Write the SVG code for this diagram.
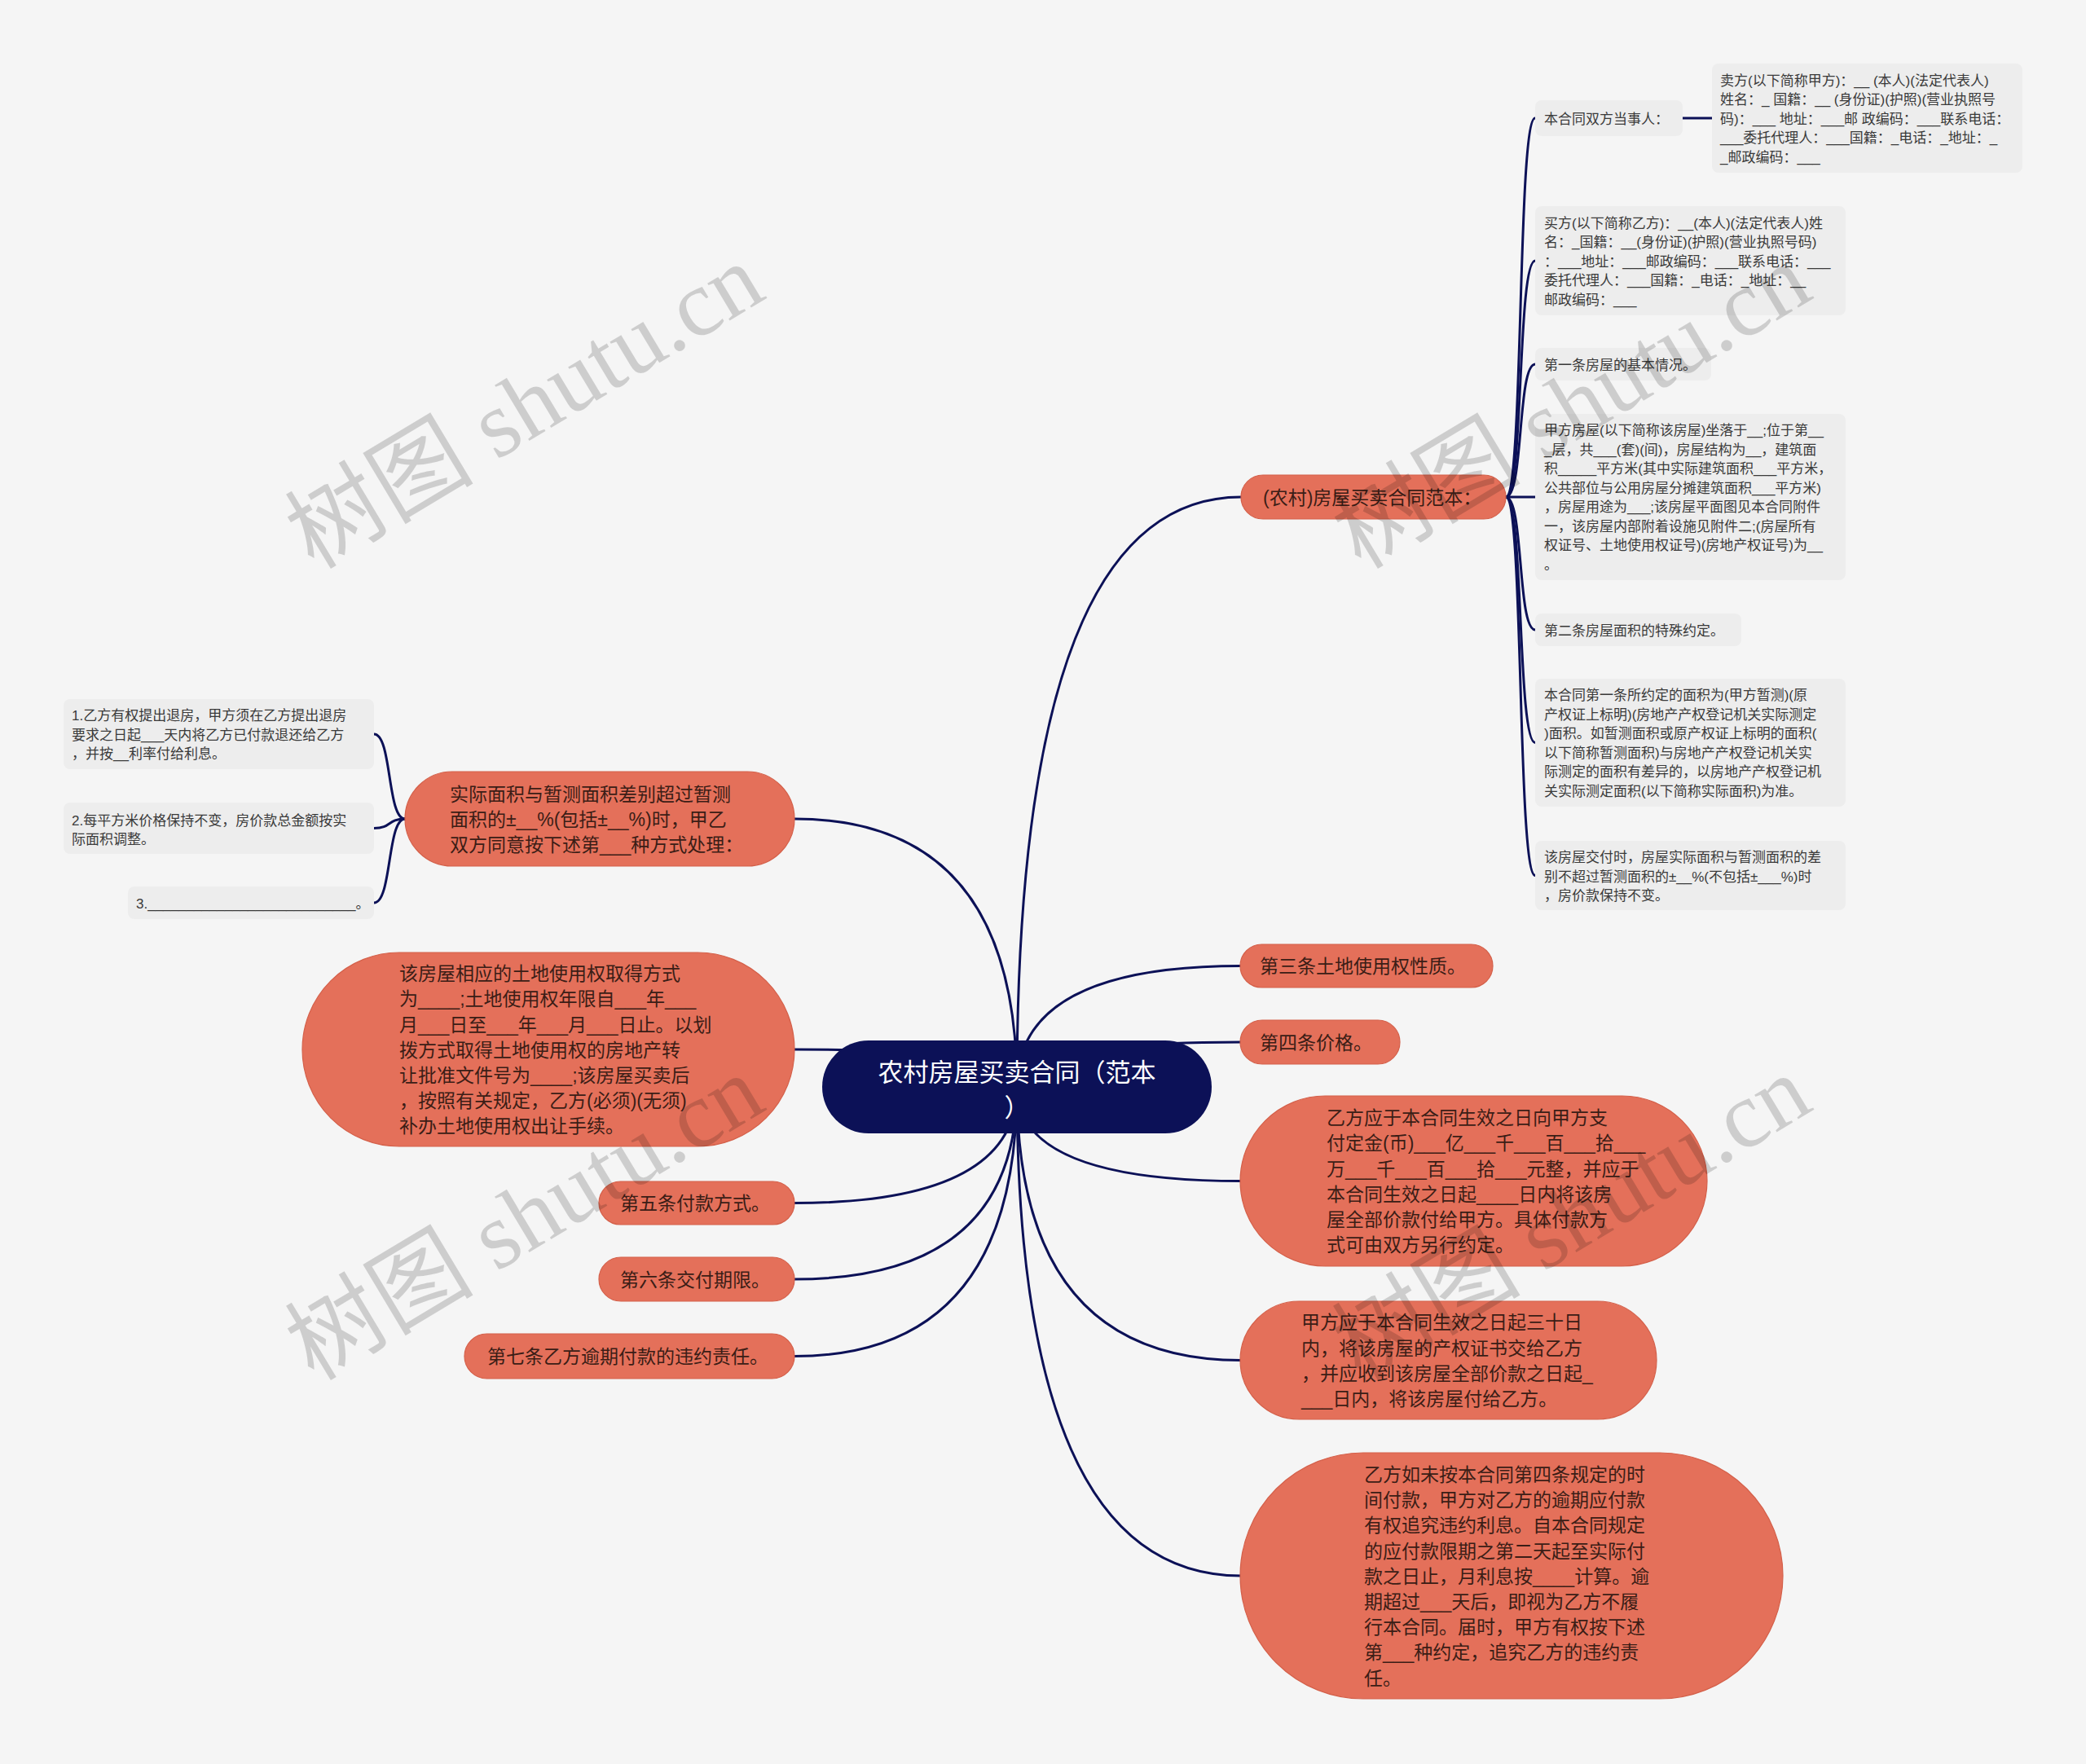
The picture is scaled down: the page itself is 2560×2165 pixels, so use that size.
<svg xmlns="http://www.w3.org/2000/svg" width="2560" height="2165" viewBox="0 0 2560 2165">
<style>
.bg{fill:#f5f5f5}
.edge{fill:none;stroke:#0c1157;stroke-width:3;stroke-linecap:round}
.l1{fill:#e4705a;stroke:#d4604a;stroke-width:1.2}
.l2{fill:#ededed}
.root{fill:#0c1157}
.t1{font-family:"Liberation Sans","Noto Sans CJK SC",sans-serif;font-size:23px;fill:#3b1d16}
.t2{font-family:"Liberation Sans","Noto Sans CJK SC",sans-serif;font-size:17px;fill:#3a3a3a}
.t0{font-family:"Liberation Sans","Noto Sans CJK SC",sans-serif;font-size:31px;fill:#ffffff}
.wm{font-family:"Liberation Serif","Noto Sans CJK SC",serif;font-size:116px;fill:#000;fill-opacity:0.16}
</style>
<rect class="bg" x="0" y="0" width="2560" height="2165"/>

<g id="connectors">
  <path class="edge" d="M1248 1334 Q1248 610 1523 610"/>
  <path class="edge" d="M1248 1334 Q1248 1185.5 1523 1185.5"/>
  <path class="edge" d="M1248 1334 Q1248 1279 1523 1279"/>
  <path class="edge" d="M1248 1334 Q1248 1449.5 1523 1449.5"/>
  <path class="edge" d="M1248 1334 Q1248 1669.5 1523 1669.5"/>
  <path class="edge" d="M1248 1334 Q1248 1934 1523 1934"/>
  <path class="edge" d="M1248 1334 Q1248 1005 975 1005"/>
  <path class="edge" d="M1248 1334 Q1248 1288 975 1288"/>
  <path class="edge" d="M1248 1334 Q1248 1476.5 975 1476.5"/>
  <path class="edge" d="M1248 1334 Q1248 1570 975 1570"/>
  <path class="edge" d="M1248 1334 Q1248 1664.5 975 1664.5"/>
  <path class="edge" d="M1848 610 C1870 610 1862 145 1884 145"/>
  <path class="edge" d="M1848 610 C1870 610 1862 320 1884 320"/>
  <path class="edge" d="M1848 610 C1870 610 1862 447 1884 447"/>
  <path class="edge" d="M1848 610 L1884 610"/>
  <path class="edge" d="M1848 610 C1870 610 1862 773 1884 773"/>
  <path class="edge" d="M1848 610 C1870 610 1862 911.5 1884 911.5"/>
  <path class="edge" d="M1848 610 C1870 610 1862 1074.5 1884 1074.5"/>
  <path class="edge" d="M2065 145 L2101 145"/>
  <path class="edge" d="M497 1005 C475 1005 481 901 459 901"/>
  <path class="edge" d="M497 1005 C475 1005 481 1016.5 459 1016.5"/>
  <path class="edge" d="M497 1005 C475 1005 481 1108 459 1108"/>
</g>

<g id="root">
  <rect class="root" x="1009" y="1277" width="478" height="114" rx="57"/>
  <text class="t0" text-anchor="middle"><tspan x="1248" y="1327">农村房屋买卖合同（范本</tspan><tspan x="1248" y="1370">）</tspan></text>
</g>

<g id="n-contract">
  <rect class="l1" x="1523" y="583" width="325" height="54" rx="27"/>
  <text class="t1" x="1550" y="618.7">(农村)房屋买卖合同范本：</text>
</g>
<g id="n-parties">
  <rect class="l2" x="1884" y="123" width="181" height="44" rx="8"/>
  <text class="t2" x="1895" y="151.5">本合同双方当事人：</text>
</g>
<g id="n-seller">
  <rect class="l2" x="2101" y="78" width="381" height="134" rx="8"/>
  <text class="t2"><tspan x="2111" y="104.5">卖方(以下简称甲方)：__ (本人)(法定代表人)</tspan><tspan x="2111" dy="23.5">姓名：_ 国籍：__ (身份证)(护照)(营业执照号</tspan><tspan x="2111" dy="23.5">码)：___ 地址：___邮 政编码：___联系电话：</tspan><tspan x="2111" dy="23.5">___委托代理人：___国籍：_电话：_地址：_</tspan><tspan x="2111" dy="23.5">_邮政编码：___</tspan></text>
</g>
<g id="n-buyer">
  <rect class="l2" x="1884" y="253" width="381" height="134" rx="8"/>
  <text class="t2"><tspan x="1895" y="279.5">买方(以下简称乙方)：__(本人)(法定代表人)姓</tspan><tspan x="1895" dy="23.5">名：_国籍：__(身份证)(护照)(营业执照号码)</tspan><tspan x="1895" dy="23.5">：___地址：___邮政编码：___联系电话：___</tspan><tspan x="1895" dy="23.5">委托代理人：___国籍：_电话：_地址：__</tspan><tspan x="1895" dy="23.5">邮政编码：___</tspan></text>
</g>
<g id="n-art1">
  <rect class="l2" x="1884" y="427" width="216" height="40" rx="8"/>
  <text class="t2" x="1895" y="453.5">第一条房屋的基本情况。</text>
</g>
<g id="n-art1-text">
  <rect class="l2" x="1884" y="508" width="381" height="204" rx="8"/>
  <text class="t2"><tspan x="1895" y="534.3">甲方房屋(以下简称该房屋)坐落于__;位于第__</tspan><tspan x="1895" dy="23.5">_层，共___(套)(间)，房屋结构为__，建筑面</tspan><tspan x="1895" dy="23.5">积_____平方米(其中实际建筑面积___平方米，</tspan><tspan x="1895" dy="23.5">公共部位与公用房屋分摊建筑面积___平方米)</tspan><tspan x="1895" dy="23.5">，房屋用途为___;该房屋平面图见本合同附件</tspan><tspan x="1895" dy="23.5">一，该房屋内部附着设施见附件二;(房屋所有</tspan><tspan x="1895" dy="23.5">权证号、土地使用权证号)(房地产权证号)为__</tspan><tspan x="1895" dy="23.5">。</tspan></text>
</g>
<g id="n-art2">
  <rect class="l2" x="1884" y="753" width="253" height="40" rx="8"/>
  <text class="t2" x="1895" y="779.5">第二条房屋面积的特殊约定。</text>
</g>
<g id="n-art2-text">
  <rect class="l2" x="1884" y="833" width="381" height="157" rx="8"/>
  <text class="t2"><tspan x="1895" y="859.3">本合同第一条所约定的面积为(甲方暂测)(原</tspan><tspan x="1895" dy="23.5">产权证上标明)(房地产产权登记机关实际测定</tspan><tspan x="1895" dy="23.5">)面积。如暂测面积或原产权证上标明的面积(</tspan><tspan x="1895" dy="23.5">以下简称暂测面积)与房地产产权登记机关实</tspan><tspan x="1895" dy="23.5">际测定的面积有差异的，以房地产产权登记机</tspan><tspan x="1895" dy="23.5">关实际测定面积(以下简称实际面积)为准。</tspan></text>
</g>
<g id="n-delivery-area">
  <rect class="l2" x="1884" y="1032" width="381" height="85" rx="8"/>
  <text class="t2"><tspan x="1895" y="1058">该房屋交付时，房屋实际面积与暂测面积的差</tspan><tspan x="1895" dy="23.5">别不超过暂测面积的±__%(不包括±___%)时</tspan><tspan x="1895" dy="23.5">，房价款保持不变。</tspan></text>
</g>

<g id="n-art3">
  <rect class="l1" x="1522" y="1159" width="310" height="53" rx="26.5"/>
  <text class="t1" x="1546" y="1194">第三条土地使用权性质。</text>
</g>
<g id="n-art4">
  <rect class="l1" x="1522" y="1252" width="196" height="54" rx="27"/>
  <text class="t1" x="1546" y="1288">第四条价格。</text>
</g>
<g id="n-deposit">
  <rect class="l1" x="1522" y="1345" width="573" height="209" rx="104.5"/>
  <text class="t1"><tspan x="1628" y="1380.2">乙方应于本合同生效之日向甲方支</tspan><tspan x="1628" dy="31.2">付定金(币)___亿___千___百___拾___</tspan><tspan x="1628" dy="31.2">万___千___百___拾___元整，并应于</tspan><tspan x="1628" dy="31.2">本合同生效之日起____日内将该房</tspan><tspan x="1628" dy="31.2">屋全部价款付给甲方。具体付款方</tspan><tspan x="1628" dy="31.2">式可由双方另行约定。</tspan></text>
</g>
<g id="n-certificate">
  <rect class="l1" x="1522" y="1597" width="511" height="145" rx="72.5"/>
  <text class="t1"><tspan x="1597" y="1631.4">甲方应于本合同生效之日起三十日</tspan><tspan x="1597" dy="31.2">内，将该房屋的产权证书交给乙方</tspan><tspan x="1597" dy="31.2">，并应收到该房屋全部价款之日起_</tspan><tspan x="1597" dy="31.2">___日内，将该房屋付给乙方。</tspan></text>
</g>
<g id="n-late">
  <rect class="l1" x="1522" y="1783" width="666" height="302" rx="151"/>
  <text class="t1"><tspan x="1674" y="1817.9">乙方如未按本合同第四条规定的时</tspan><tspan x="1674" dy="31.2">间付款，甲方对乙方的逾期应付款</tspan><tspan x="1674" dy="31.2">有权追究违约利息。自本合同规定</tspan><tspan x="1674" dy="31.2">的应付款限期之第二天起至实际付</tspan><tspan x="1674" dy="31.2">款之日止，月利息按____计算。逾</tspan><tspan x="1674" dy="31.2">期超过___天后，即视为乙方不履</tspan><tspan x="1674" dy="31.2">行本合同。届时，甲方有权按下述</tspan><tspan x="1674" dy="31.2">第___种约定，追究乙方的违约责</tspan><tspan x="1674" dy="31.2">任。</tspan></text>
</g>

<g id="n-diff">
  <rect class="l1" x="497" y="947" width="478" height="116" rx="58"/>
  <text class="t1"><tspan x="552" y="982.5">实际面积与暂测面积差别超过暂测</tspan><tspan x="552" dy="31.2">面积的±__%(包括±__%)时，甲乙</tspan><tspan x="552" dy="31.2">双方同意按下述第___种方式处理：</tspan></text>
</g>
<g id="n-opt1">
  <rect class="l2" x="78" y="858" width="381" height="86" rx="8"/>
  <text class="t2"><tspan x="88" y="884">1.乙方有权提出退房，甲方须在乙方提出退房</tspan><tspan x="88" dy="23.5">要求之日起___天内将乙方已付款退还给乙方</tspan><tspan x="88" dy="23.5">，并按__利率付给利息。</tspan></text>
</g>
<g id="n-opt2">
  <rect class="l2" x="78" y="985" width="381" height="63" rx="8"/>
  <text class="t2"><tspan x="88" y="1012.5">2.每平方米价格保持不变，房价款总金额按实</tspan><tspan x="88" dy="23.5">际面积调整。</tspan></text>
</g>
<g id="n-opt3">
  <rect class="l2" x="157" y="1088" width="302" height="40" rx="8"/>
  <text class="t2" x="167" y="1114.5">3.___________________________。</text>
</g>
<g id="n-land">
  <rect class="l1" x="371" y="1169" width="604" height="238" rx="119"/>
  <text class="t1"><tspan x="490" y="1203.1">该房屋相应的土地使用权取得方式</tspan><tspan x="490" dy="31.2">为____;土地使用权年限自___年___</tspan><tspan x="490" dy="31.2">月___日至___年___月___日止。以划</tspan><tspan x="490" dy="31.2">拨方式取得土地使用权的房地产转</tspan><tspan x="490" dy="31.2">让批准文件号为____;该房屋买卖后</tspan><tspan x="490" dy="31.2">，按照有关规定，乙方(必须)(无须)</tspan><tspan x="490" dy="31.2">补办土地使用权出让手续。</tspan></text>
</g>
<g id="n-art5">
  <rect class="l1" x="735" y="1450" width="240" height="53" rx="26.5"/>
  <text class="t1" x="761" y="1485.2">第五条付款方式。</text>
</g>
<g id="n-art6">
  <rect class="l1" x="735" y="1543" width="240" height="54" rx="27"/>
  <text class="t1" x="761" y="1578.7">第六条交付期限。</text>
</g>
<g id="n-art7">
  <rect class="l1" x="570" y="1637" width="405" height="55" rx="27.5"/>
  <text class="t1" x="598" y="1673.2">第七条乙方逾期付款的违约责任。</text>
</g>

<g id="watermarks">
  <text class="wm" transform="translate(385 700) rotate(-31)">树图 shutu.cn</text>
  <text class="wm" transform="translate(1670 700) rotate(-31)">树图 shutu.cn</text>
  <text class="wm" transform="translate(385 1696) rotate(-31)">树图 shutu.cn</text>
  <text class="wm" transform="translate(1670 1696) rotate(-31)">树图 shutu.cn</text>
</g>
</svg>
